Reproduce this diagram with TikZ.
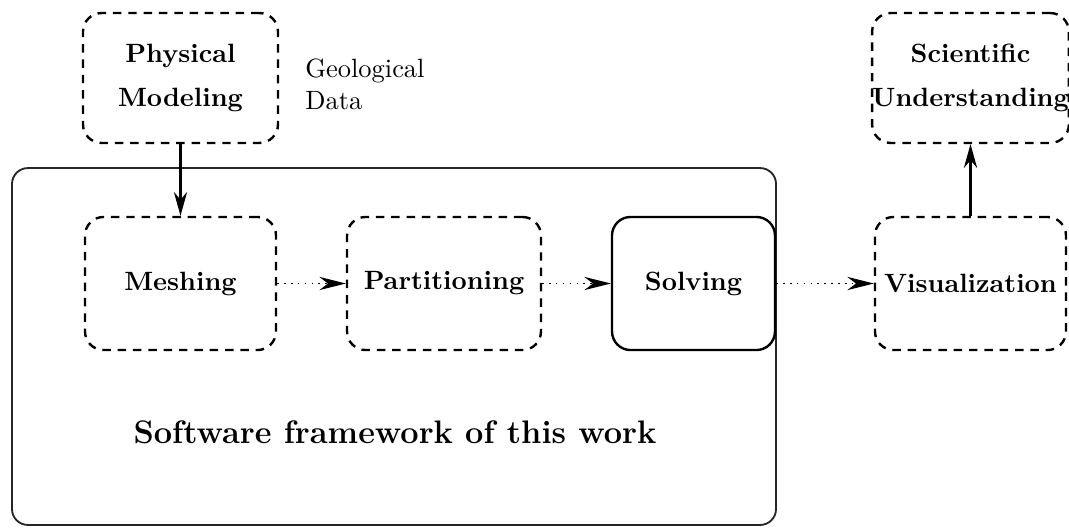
\documentclass[tikz,border=0pt]{standalone}
\usetikzlibrary{arrows.meta}
\begin{document}
\begin{tikzpicture}[x=0.378pt,y=-0.378pt,
  stage/.style={draw, line width=0.9pt, rounded corners=7pt, inner sep=0pt,
    font=\bfseries, align=center, minimum height=50.3pt},
  dstage/.style={stage, dash pattern=on 3.2pt off 2.6pt},
  frame/.style={draw=black!85, line width=0.7pt, rounded corners=6pt, inner sep=0pt},
  flow/.style={line width=0.8pt, -{Stealth[length=9pt,width=5pt]}},
  dflow/.style={line width=0.6pt, dotted, -{Stealth[length=10pt,width=5pt]}}]
\useasboundingbox (0,0) rectangle (1069,529);

% framework box
\node[frame, minimum width=288.8pt, minimum height=134.9pt] (fw) at (394,346.5) {};
\node[font=\fontsize{12.3}{15}\selectfont\bfseries] (fwlabel) at (395,432)
  {Software framework of this work};

% stages outside the framework
\node[dstage, minimum width=73.7pt, minimum height=49.1pt] (phys) at (180.5,78)
  {Physical\\[4.5pt]Modeling};
\node[anchor=west, align=left] (geo) at (296,84) {Geological\\Data};
\node[dstage, minimum width=72.2pt, minimum height=49.1pt] (sci) at (970.5,78)
  {Scientific\\[4.5pt]Understanding};

% pipeline stages
\node[dstage, minimum width=72.2pt] (mesh) at (180.5,283.5) {Meshing};
\node[dstage, minimum width=73.3pt] (part) at (444,283.5) {Partitioning};
\node[stage, minimum width=61.6pt] (solve) at (693.5,283.5) {Solving};
\node[dstage, minimum width=72.2pt] (vis) at (970.5,283.5) {Visualization};

% connectors
\draw[flow] (phys.south) -- (mesh.north);
\draw[flow] (vis.north) -- (sci.south);
\draw[dflow] (mesh.east) -- (part.west);
\draw[dflow] (part.east) -- (solve.west);
\draw[dflow] (solve.east) -- (vis.west);
\end{tikzpicture}
\end{document}
